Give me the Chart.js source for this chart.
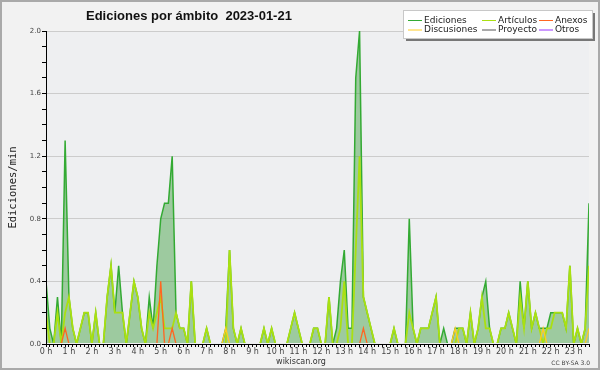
<!DOCTYPE html>
<html>
<head>
<meta charset="utf-8">
<script src="https://cdn.jsdelivr.net/npm/chart.js@4.4.0/dist/chart.umd.min.js"></script>
<style>
  html, body { margin: 0; padding: 0; background: #f2f2f2; }
  #wrap { width: 600px; height: 370px; }
</style>
</head>
<body>
<div id="wrap"><canvas id="chart" width="600" height="370"></canvas></div>
<script>
// 10-minute slots, values in edits per minute
const hourLabels = ['0 h', '1 h', '2 h', '3 h', '4 h', '5 h', '6 h', '7 h', '8 h', '9 h', '10 h', '11 h',
  '12 h', '13 h', '14 h', '15 h', '16 h', '17 h', '18 h', '19 h', '20 h', '21 h', '22 h', '23 h'];

const ediciones = [
  0.4, 0.1, 0, 0.3, 0, 1.3, 0.3, 0.1, 0, 0.1, 0.2, 0.2,
  0, 0.2, 0, 0, 0.3, 0.5, 0.2, 0.5, 0.2, 0, 0.2, 0.4,
  0.3, 0.1, 0, 0.3, 0.1, 0.5, 0.8, 0.9, 0.9, 1.2, 0.2, 0.1,
  0.1, 0, 0.4, 0, 0, 0, 0.1, 0, 0, 0, 0, 0.1,
  0.6, 0.1, 0, 0.1, 0, 0, 0, 0, 0, 0.1, 0, 0.1,
  0, 0, 0, 0, 0.1, 0.2, 0.1, 0, 0, 0, 0.1, 0.1,
  0, 0, 0.3, 0, 0.1, 0.4, 0.6, 0.1, 0.1, 1.7, 2.0, 0.3,
  0.2, 0.1, 0, 0, 0, 0, 0, 0.1, 0, 0, 0, 0.8,
  0.1, 0, 0.1, 0.1, 0.1, 0.2, 0.3, 0, 0.1, 0, 0, 0.1,
  0.1, 0.1, 0, 0.2, 0, 0.1, 0.3, 0.4, 0.1, 0, 0, 0.1,
  0.1, 0.2, 0.1, 0, 0.4, 0.1, 0.4, 0.1, 0.2, 0.1, 0.1, 0.1,
  0.2, 0.2, 0.2, 0.2, 0.1, 0.5, 0, 0.1, 0, 0.1, 0.9
];
const articulos = [
  0.2, 0, 0, 0.2, 0, 0.2, 0.3, 0.1, 0, 0.1, 0.2, 0.2,
  0, 0.2, 0, 0, 0.3, 0.5, 0.2, 0.2, 0.2, 0, 0.2, 0.4,
  0.3, 0.1, 0, 0.2, 0.1, 0.2, 0.3, 0.1, 0.1, 0.1, 0.2, 0.1,
  0.1, 0, 0.4, 0, 0, 0, 0.1, 0, 0, 0, 0, 0,
  0.6, 0.1, 0, 0.1, 0, 0, 0, 0, 0, 0.1, 0, 0.1,
  0, 0, 0, 0, 0.1, 0.2, 0.1, 0, 0, 0, 0.1, 0.1,
  0, 0, 0.3, 0, 0, 0.1, 0.4, 0, 0, 0.6, 1.2, 0.3,
  0.2, 0.1, 0, 0, 0, 0, 0, 0.1, 0, 0, 0, 0.2,
  0.1, 0, 0.1, 0.1, 0.1, 0.2, 0.3, 0, 0, 0, 0, 0,
  0.1, 0.1, 0, 0.2, 0, 0.1, 0.3, 0.1, 0.1, 0, 0, 0.1,
  0.1, 0.2, 0.1, 0, 0.3, 0.1, 0.4, 0.1, 0.2, 0.1, 0, 0.1,
  0.1, 0.2, 0.2, 0.2, 0.1, 0.5, 0, 0.1, 0, 0.1, 0.5
];
const anexos = [
  0, 0, 0, 0, 0, 0.1, 0, 0, 0, 0, 0, 0,
  0, 0, 0, 0, 0, 0, 0, 0, 0, 0, 0, 0,
  0, 0, 0, 0, 0, 0, 0.4, 0, 0, 0.1, 0, 0,
  0, 0, 0, 0, 0, 0, 0, 0, 0, 0, 0, 0,
  0, 0, 0, 0, 0, 0, 0, 0, 0, 0, 0, 0,
  0, 0, 0, 0, 0, 0, 0, 0, 0, 0, 0, 0,
  0, 0, 0, 0, 0, 0, 0, 0, 0, 0, 0, 0.1,
  0, 0, 0, 0, 0, 0, 0, 0, 0, 0, 0, 0,
  0, 0, 0, 0, 0, 0, 0, 0, 0, 0, 0, 0,
  0, 0, 0, 0, 0, 0, 0, 0, 0, 0, 0, 0,
  0, 0, 0, 0, 0, 0, 0, 0, 0, 0, 0, 0,
  0, 0, 0, 0, 0, 0, 0, 0, 0, 0, 0
];
const discusiones = [
  0, 0, 0, 0, 0, 0, 0, 0, 0, 0, 0, 0,
  0, 0, 0, 0, 0, 0, 0, 0, 0, 0, 0, 0,
  0, 0, 0, 0, 0, 0, 0, 0, 0, 0, 0, 0,
  0, 0, 0, 0, 0, 0, 0, 0, 0, 0, 0, 0.1,
  0, 0, 0, 0, 0, 0, 0, 0, 0, 0, 0, 0,
  0, 0, 0, 0, 0, 0, 0, 0, 0, 0, 0, 0,
  0, 0, 0, 0, 0, 0, 0, 0, 0, 0, 0, 0,
  0, 0, 0, 0, 0, 0, 0, 0, 0, 0, 0, 0,
  0, 0, 0, 0, 0, 0, 0, 0, 0, 0, 0, 0.1,
  0, 0, 0, 0, 0, 0, 0, 0, 0, 0, 0, 0,
  0, 0, 0, 0, 0, 0, 0, 0, 0, 0, 0.1, 0,
  0, 0, 0, 0, 0, 0, 0, 0, 0, 0, 0.1
];
const proyecto = [
  0, 0, 0, 0, 0, 0, 0, 0, 0, 0, 0, 0,
  0, 0, 0, 0, 0, 0, 0, 0, 0, 0, 0, 0,
  0, 0, 0, 0, 0, 0, 0, 0, 0, 0, 0, 0,
  0, 0, 0, 0, 0, 0, 0, 0, 0, 0, 0, 0,
  0, 0, 0, 0, 0, 0, 0, 0, 0, 0, 0, 0,
  0, 0, 0, 0, 0, 0, 0, 0, 0, 0, 0, 0,
  0, 0, 0, 0, 0, 0, 0, 0, 0, 0, 0, 0,
  0, 0, 0, 0, 0, 0, 0, 0, 0, 0, 0, 0,
  0, 0, 0, 0, 0, 0, 0, 0, 0, 0, 0, 0,
  0, 0, 0, 0, 0, 0, 0, 0, 0, 0, 0, 0,
  0, 0, 0, 0, 0, 0, 0, 0, 0, 0, 0, 0,
  0, 0, 0, 0, 0, 0, 0, 0, 0, 0, 0
];
const otros = [
  0, 0, 0, 0, 0, 0, 0, 0, 0, 0, 0, 0,
  0, 0, 0, 0, 0, 0, 0, 0, 0, 0, 0, 0,
  0, 0, 0, 0, 0, 0, 0, 0, 0, 0, 0, 0,
  0, 0, 0, 0, 0, 0, 0, 0, 0, 0, 0, 0,
  0, 0, 0, 0, 0, 0, 0, 0, 0, 0, 0, 0,
  0, 0, 0, 0, 0, 0, 0, 0, 0, 0, 0, 0,
  0, 0, 0, 0, 0, 0, 0, 0, 0, 0, 0, 0,
  0, 0, 0, 0, 0, 0, 0, 0, 0, 0, 0, 0,
  0, 0, 0, 0, 0, 0, 0, 0, 0, 0, 0, 0,
  0, 0, 0, 0, 0, 0, 0, 0, 0, 0, 0, 0,
  0, 0, 0, 0, 0, 0, 0, 0, 0, 0, 0, 0,
  0, 0, 0, 0, 0, 0, 0, 0, 0, 0, 0
];

// slot labels 00:00, 00:10 ... (one per value)
const slots = ediciones.map((v, i) => {
  const h = Math.floor(i / 6), m = (i % 6) * 10;
  return String(h).padStart(2, '0') + ':' + String(m).padStart(2, '0');
});

const legendItems = [
  { label: 'Ediciones', color: '#33aa33', col: 0, row: 0 },
  { label: 'Artículos', color: '#aae011', col: 1, row: 0 },
  { label: 'Anexos', color: '#ff6622', col: 2, row: 0 },
  { label: 'Discusiones', color: '#ffcc22', col: 0, row: 1 },
  { label: 'Proyecto', color: '#555555', col: 1, row: 1 },
  { label: 'Otros', color: '#9933ff', col: 2, row: 1 }
];

const clipBottom = { left: 0, top: 4, right: 0, bottom: -1 };

function line(label, data, color, order, width) {
  return {
    label: label,
    data: data,
    borderColor: color,
    borderWidth: width,
    pointRadius: 0,
    tension: 0,
    fill: false,
    order: order,
    clip: clipBottom
  };
}

const decor = {
  id: 'decor',
  beforeDraw(chart) {
    const { ctx, chartArea: a } = chart;
    ctx.save();
    ctx.fillStyle = '#f2f2f2';
    ctx.fillRect(0, 0, 600, 370);
    ctx.fillStyle = '#eeeff1';
    ctx.fillRect(a.left, a.top, a.right - a.left, a.bottom - a.top);
    ctx.restore();
  },
  afterDatasetsDraw(chart) {
    const { ctx, chartArea: a } = chart;
    ctx.save();
    ctx.strokeStyle = '#000';
    ctx.lineWidth = 1;
    ctx.beginPath();
    ctx.moveTo(a.left + 0.5, a.top);
    ctx.lineTo(a.left + 0.5, a.bottom + 0.5);
    ctx.lineTo(a.right, a.bottom + 0.5);
    ctx.stroke();
    ctx.restore();
  },
  afterDraw(chart) {
    const { ctx } = chart;
    ctx.save();
    // outer frame
    ctx.strokeStyle = '#aaaaaa';
    ctx.lineWidth = 2;
    ctx.strokeRect(1, 1, 598, 368);

    // title
    ctx.fillStyle = '#111';
    ctx.font = 'bold 13px "Liberation Sans"';
    ctx.textBaseline = 'alphabetic';
    ctx.textAlign = 'left';
    ctx.fillText('Ediciones por ámbito  2023-01-21', 86, 20);

    // legend box
    ctx.fillStyle = '#777';
    ctx.fillRect(406, 13, 189, 28);
    ctx.fillStyle = '#fff';
    ctx.fillRect(404, 11, 188, 27);
    ctx.strokeStyle = '#c8c8c8';
    ctx.lineWidth = 1;
    ctx.strokeRect(403.5, 10.5, 189, 28);
    const colX = [408, 482, 539];
    const rowY = [20, 29.5];
    ctx.font = '9px "DejaVu Sans"';
    ctx.textBaseline = 'middle';
    legendItems.forEach(it => {
      const x = colX[it.col], y = rowY[it.row];
      ctx.strokeStyle = it.color;
      ctx.lineWidth = 1;
      ctx.beginPath();
      ctx.moveTo(x, y + 0.5);
      ctx.lineTo(x + 14, y + 0.5);
      ctx.stroke();
      ctx.fillStyle = '#222';
      ctx.fillText(it.label, x + 16, y + 0.5);
    });

    // footer
    ctx.textBaseline = 'alphabetic';
    ctx.fillStyle = '#333';
    ctx.font = '8px "DejaVu Sans"';
    ctx.textAlign = 'center';
    ctx.fillText('wikiscan.org', 301, 364);
    ctx.font = '6px "DejaVu Sans"';
    ctx.textAlign = 'right';
    ctx.fillStyle = '#444';
    ctx.fillText('CC BY-SA 3.0', 590, 365);
    ctx.restore();
  }
};

const edicionesSet = line('Ediciones', ediciones, '#33aa33', 6, 1.5);
edicionesSet.fill = 'origin';
edicionesSet.backgroundColor = 'rgba(70, 160, 70, 0.48)';

new Chart(document.getElementById('chart'), {
  type: 'line',
  data: {
    labels: slots,
    datasets: [
      edicionesSet,
      line('Artículos', articulos, '#aae011', 5, 1.8),
      line('Proyecto', proyecto, '#555555', 4, 1),
      line('Otros', otros, '#9933ff', 3, 1),
      line('Discusiones', discusiones, '#ffcc22', 2, 1.3),
      line('Anexos', anexos, '#ff6622', 1, 1.3)
    ]
  },
  options: {
    responsive: false,
    animation: false,
    events: [],
    layout: { padding: { top: 31, right: 11, left: 0, bottom: 0 } },
    plugins: {
      legend: { display: false },
      tooltip: { enabled: false },
      title: { display: false }
    },
    scales: {
      x: {
        ticks: {
          autoSkip: false,
          maxRotation: 0,
          padding: 0,
          color: '#444',
          font: { family: 'DejaVu Sans', size: 8 },
          callback: (v, i) => (i % 6 === 0 ? hourLabels[i / 6] : '')
        },
        grid: { drawOnChartArea: false, tickLength: 3, tickColor: '#000' },
        border: { color: '#000' },
        afterFit: s => { s.height = 26; }
      },
      y: {
        min: 0,
        max: 2,
        ticks: {
          stepSize: 0.1,
          autoSkip: false,
          padding: 1,
          color: '#444',
          font: { family: 'DejaVu Sans', size: 7 },
          callback: v => (Math.round(v * 10) % 4 === 0 ? v.toFixed(1) : '')
        },
        grid: {
          color: c => (Math.round(c.tick.value * 10) % 4 === 0 && c.tick.value > 0 ? '#cccccc' : 'rgba(0,0,0,0)'),
          tickColor: '#000',
          tickLength: 4
        },
        border: { color: '#000' },
        title: {
          display: true,
          text: 'Ediciones/min',
          color: '#222',
          font: { family: 'DejaVu Sans Mono', size: 10.5 },
          padding: { top: 7, bottom: 0 }
        },
        afterFit: s => { s.width = 46; }
      }
    }
  },
  plugins: [decor]
});
</script>
</body>
</html>
